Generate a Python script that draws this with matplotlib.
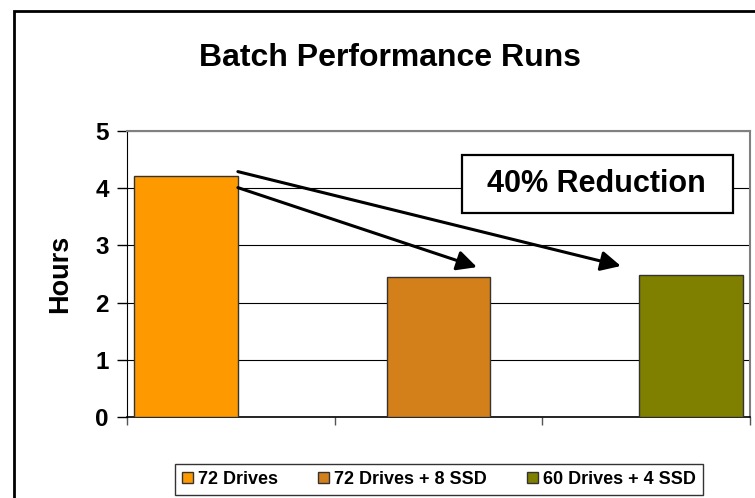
import matplotlib
matplotlib.use("Agg")
import matplotlib.pyplot as plt
from matplotlib.patches import Rectangle

plt.rcParams['font.family'] = ['Liberation Sans', 'DejaVu Sans']
plt.rcParams['font.weight'] = 'bold'

# data
series = ['72 Drives', '72 Drives + 8 SSD', '60 Drives + 4 SSD']
hours = [4.22, 2.44, 2.48]
colors = ['#FF9900', '#D4801A', '#808000']
yticks = [0, 1, 2, 3, 4, 5]
note = '40% Reduction'

fig = plt.figure(figsize=(7.55, 4.98), dpi=100)
ax = fig.add_axes([127/755, 1 - 417/498, 623/755, 286/498])

# outer chart frame (runs off the right and bottom of the picture)
fig.patches.append(Rectangle((14/755, -0.1), 1.2, 1 - 11/498 + 0.1,
                             transform=fig.transFigure, fill=False,
                             edgecolor='black', lw=2, zorder=0))

for i, (name, val, c) in enumerate(zip(series, hours, colors)):
    ax.bar(i + (i - 1) * 0.215, val, width=0.5, color=c, edgecolor='#333333',
           lw=1, label=name, zorder=3)

ax.set_xlim(-0.5, 2.5)
ax.set_ylim(0, 5)
ax.set_yticks(yticks)
ax.set_yticklabels([str(t) for t in yticks], fontsize=17.5, fontweight='bold')
ax.set_xticks([-0.5, 0.5, 1.5, 2.5])
ax.set_xticklabels([])
ax.tick_params(axis='y', direction='out', length=7, width=1, color='black', pad=6)
ax.tick_params(axis='x', direction='out', length=6, width=1, color='#555555')
ax.yaxis.grid(True, color='black', lw=0.8, zorder=0)
ax.set_axisbelow(True)

for s in ['top', 'right']:
    ax.spines[s].set_color('#808080')
    ax.spines[s].set_linewidth(1.5)
ax.spines['left'].set_color('black')
ax.spines['bottom'].set_color('black')
ax.spines['bottom'].set_linewidth(1.2)

ax.set_ylabel('Hours', fontsize=19.5, fontweight='bold', labelpad=16)

fig.text(390/755, 1 - 58/498, 'Batch Performance Runs', ha='center',
         va='center', fontsize=23, fontweight='bold')

# annotation box
ax.add_patch(Rectangle((0.538, 0.713), 0.435, 0.203, transform=ax.transAxes,
                       facecolor='white', edgecolor='black', lw=1.6, zorder=5))
ax.text(0.754, 0.815, note, transform=ax.transAxes, ha='center', va='center',
        fontsize=22, fontweight='bold', zorder=6)

arrow = dict(arrowstyle='-|>', lw=2.2, color='black', mutation_scale=30,
             shrinkA=0, shrinkB=0)
ax.annotate('', xy=(1.185, 2.62), xytext=(0.034, 4.01), arrowprops=arrow,
            zorder=7)
ax.annotate('', xy=(1.878, 2.64), xytext=(0.034, 4.29), arrowprops=arrow,
            zorder=7)

leg = fig.legend(loc='center', bbox_to_anchor=(439/755, 1 - 479.5/498),
                 ncol=3, frameon=True, fancybox=False,
                 handlelength=0.6, handleheight=0.6, handletextpad=0.3,
                 columnspacing=2.2, borderpad=0.4, edgecolor='black',
                 prop={'weight': 'bold', 'size': 13})
leg.get_frame().set_linewidth(1)
for h in leg.legend_handles:
    h.set_edgecolor('#333333')

fig.savefig('out.png', dpi=100)
